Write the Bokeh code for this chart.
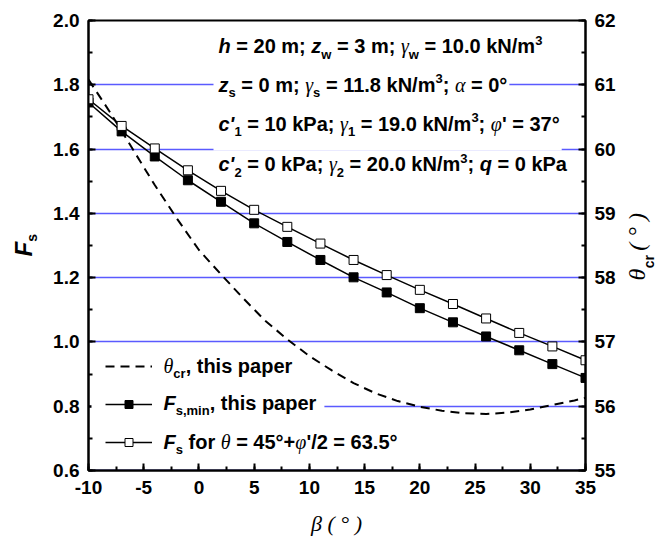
import glob
import os
import math

from bokeh.plotting import figure
from bokeh.models import (Range1d, LinearAxis, SingleIntervalTicker, NumeralTickFormatter,
                          Label, BoxAnnotation, Legend, LegendItem)
from bokeh.core.properties import value
from bokeh.embed import file_html
from bokeh.resources import INLINE

# ---------------- data ----------------
beta = [-10, -7, -4, -1, 2, 5, 8, 11, 14, 17, 20, 23, 26, 29, 32, 35]
fs_min = [1.745, 1.655, 1.577, 1.503, 1.436, 1.369, 1.311, 1.255,
          1.201, 1.154, 1.105, 1.061, 1.017, 0.974, 0.931, 0.888]
fs_fixed = [1.755, 1.672, 1.602, 1.534, 1.470, 1.411, 1.358, 1.306,
            1.255, 1.208, 1.162, 1.118, 1.073, 1.028, 0.986, 0.943]

beta_theta = [-10, -8, -6, -4, -2, 0, 2, 4, 6, 8, 10, 12, 14, 16, 18, 20,
              22, 24, 26, 28, 30, 32, 34, 35]
theta_cr = [61.08, 60.56, 60.00, 59.44, 58.92, 58.43, 58.05, 57.68, 57.33,
            57.04, 56.78, 56.56, 56.36, 56.20, 56.08, 55.99, 55.93, 55.89,
            55.88, 55.90, 55.95, 56.02, 56.09, 56.13]

X_RANGE = (-10, 35)
Y_RANGE = (0.6, 2.0)
THETA_RANGE = (55, 62)

NB = "\u00a0"  # non-breaking space (kept by SVG text)

# ---------------- layout ----------------
W, H = 656, 549
FL, FR, FT, FB = 88, 71, 20, 79
FW = W - FL - FR
FH = H - FT - FB
BASE_FIX = 0.38   # Bokeh draws "alphabetic" text a little low: lift by this * font size


def px2x(px):
    return X_RANGE[0] + (px - FL) / FW * (X_RANGE[1] - X_RANGE[0])


def py2y(py):
    return Y_RANGE[1] - (py - FT) / FH * (Y_RANGE[1] - Y_RANGE[0])


# ---------------- text measuring ----------------
try:
    from PIL import ImageFont
except Exception:
    ImageFont = None

FONT_FILES = {
    "b": "LiberationSans-Bold.ttf",
    "bi": "LiberationSans-BoldItalic.ttf",
    "g": "LiberationSerif-Italic.ttf",
    "r": "LiberationSerif-Regular.ttf",
}
FONT_SPEC = {
    "b": ("Liberation Sans", "bold"),
    "bi": ("Liberation Sans", "bold italic"),
    "g": ("Liberation Serif", "italic"),
    "r": ("Liberation Serif", "normal"),
}
_path_cache = {}
_font_cache = {}


def find_font(name):
    if name in _path_cache:
        return _path_cache[name]
    found = None
    for root in ["/usr/share/fonts", "/usr/local/share/fonts",
                 os.path.expanduser("~/.fonts"), os.path.expanduser("~/.local/share/fonts")]:
        hits = glob.glob(os.path.join(root, "**", name), recursive=True)
        if hits:
            found = hits[0]
            break
    _path_cache[name] = found
    return found


def text_width(text, style, size):
    key = (style, size)
    if key not in _font_cache:
        f = None
        path = find_font(FONT_FILES[style])
        if ImageFont is not None and path:
            try:
                f = ImageFont.truetype(path, size)
            except Exception:
                f = None
        _font_cache[key] = f
    f = _font_cache[key]
    if f is not None:
        return f.getlength(text)
    return 0.56 * size * len(text)


def make_label(x0, y0, xo, yo, text, angle, style, size, canvas):
    fam, fst = FONT_SPEC[style]
    if angle == 0:
        yo = yo + BASE_FIX * size
    else:
        xo = xo - BASE_FIX * size
    kw = dict(x_offset=xo, y_offset=yo, text=text, angle=angle, text_font=fam,
              text_font_style=fst, text_font_size=f"{size}px", text_color="black",
              text_align="left", text_baseline="alphabetic")
    if canvas:
        # canvas units: origin at the top-left of the canvas, y downwards
        return Label(x=x0, y=y0, x_units="canvas", y_units="canvas", **kw)
    return Label(x=px2x(x0), y=py2y(y0), **kw)


def rich(segments, x0, y0, angle=0.0, canvas=False):
    """segments: (text, style, size_px, dy_px). x0, y0: start of baseline in canvas px."""
    labels = []
    cum = 0.0
    for text, style, size, dy in segments:
        stripped = text.strip()
        lead = len(text) - len(text.lstrip())
        off = cum + (text_width(" " * lead, style, size) if lead else 0.0)
        if angle == 0:
            xo, yo = off, dy
        else:
            xo, yo = -dy, off
        if stripped:
            labels.append(make_label(x0, y0, xo, yo, stripped, angle, style, size, canvas))
        cum += text_width(text, style, size)
    return labels, cum


# ---------------- figure ----------------
p = figure(width=W, height=H, x_range=Range1d(*X_RANGE), y_range=Range1d(*Y_RANGE),
           output_backend="svg", toolbar_location=None,
           min_border_left=FL, min_border_right=FR, min_border_top=FT, min_border_bottom=FB)
p.extra_y_ranges = {"theta": Range1d(*THETA_RANGE)}
p.background_fill_color = "white"
p.border_fill_color = "white"
p.outline_line_color = "black"
p.outline_line_width = 2
p.outline_line_alpha = 1.0


def style_axis(ax, ticker, fmt, standoff):
    ax.ticker = ticker
    ax.formatter = fmt
    ax.axis_line_width = 2
    ax.axis_line_color = "black"
    ax.major_tick_in = 7
    ax.major_tick_out = 0
    ax.minor_tick_in = 4
    ax.minor_tick_out = 0
    ax.major_tick_line_width = 2
    ax.minor_tick_line_width = 2
    ax.major_label_text_font = "Liberation Sans"
    ax.major_label_text_font_style = "bold"
    ax.major_label_text_font_size = "19px"
    ax.major_label_text_color = "black"
    ax.major_label_standoff = standoff


style_axis(p.xaxis[0], SingleIntervalTicker(interval=5, num_minor_ticks=2),
           NumeralTickFormatter(format="0"), 10)
style_axis(p.yaxis[0], SingleIntervalTicker(interval=0.2, num_minor_ticks=2),
           NumeralTickFormatter(format="0.0"), 9)
right_axis = LinearAxis(y_range_name="theta")
style_axis(right_axis, SingleIntervalTicker(interval=1, num_minor_ticks=2),
           NumeralTickFormatter(format="0"), 9)
p.add_layout(right_axis, "right")

p.xgrid.visible = False
p.ygrid.grid_line_color = "#5a5aff"
p.ygrid.grid_line_width = 1.3

# ---------------- data renderers ----------------
r_theta = p.line(beta_theta, theta_cr, y_range_name="theta", line_color="black",
                 line_width=2, line_dash="9 6")
r_min_l = p.line(beta, fs_min, line_color="black", line_width=1.5)
r_min_m = p.scatter(beta, fs_min, marker="square", size=9, fill_color="black",
                    line_color="black", line_width=1)
r_fix_l = p.line(beta, fs_fixed, line_color="black", line_width=1.5)
r_fix_m = p.scatter(beta, fs_fixed, marker="square", size=9, fill_color="white",
                    line_color="black", line_width=1)

# ---------------- annotation text block ----------------
SUB = -5
SUP = 9
M, S = 20, 13
ann_lines = [
    [("h", "bi", M, 0), (" = 20 m; ", "b", M, 0), ("z", "bi", M, 0), ("w", "b", S, SUB),
     (" = 3 m; ", "b", M, 0), ("γ", "g", M, 0), ("w", "b", S, SUB),
     (" = 10.0 kN/m", "b", M, 0), ("3", "b", S, SUP)],
    [("z", "bi", M, 0), ("s", "b", S, SUB), (" = 0 m; ", "b", M, 0), ("γ", "g", M, 0),
     ("s", "b", S, SUB), (" = 11.8 kN/m", "b", M, 0), ("3", "b", S, SUP),
     ("; ", "b", M, 0), ("α", "g", M, 0), (" = 0°", "b", M, 0)],
    [("c'", "bi", M, 0), ("1", "b", S, SUB), (" = 10 kPa; ", "b", M, 0), ("γ", "g", M, 0),
     ("1", "b", S, SUB), (" = 19.0 kN/m", "b", M, 0), ("3", "b", S, SUP),
     ("; ", "b", M, 0), ("φ", "g", M, 0), ("' = 37°", "b", M, 0)],
    [("c'", "bi", M, 0), ("2", "b", S, SUB), (" = 0 kPa; ", "b", M, 0), ("γ", "g", M, 0),
     ("2", "b", S, SUB), (" = 20.0 kN/m", "b", M, 0), ("3", "b", S, SUP),
     ("; ", "b", M, 0), ("q", "bi", M, 0), (" = 0 kPa", "b", M, 0)],
]
ann_x0 = 218
ann_base = [53.5, 92, 131, 171.5]
# white boxes behind lines (top pad, bottom pad) in px
ann_box = [None, (17, 7), (18, 19), (18, 7)]

center_labels = []
side_labels = []
boxes = []
for segs, base, bx in zip(ann_lines, ann_base, ann_box):
    labs, wid = rich(segs, ann_x0, base)
    center_labels += labs
    if bx is not None:
        boxes.append(BoxAnnotation(left=px2x(ann_x0 - 5), right=px2x(ann_x0 + wid + 2),
                                   top=py2y(base - bx[0]), bottom=py2y(base + bx[1]),
                                   fill_color="white", fill_alpha=1.0, line_color=None))

# ---------------- legend ----------------
leg_x0 = 163
leg_texts = [
    [("θ", "g", M, 0), ("cr", "b", S, SUB), (", this paper", "b", M, 0)],
    [("F", "bi", M, 0), ("s,min", "b", S, SUB), (", this paper", "b", M, 0)],
    [("F", "bi", M, 0), ("s", "b", S, SUB), (" for ", "b", M, 0), ("θ", "g", M, 0),
     (" = 45°+", "b", M, 0), ("φ", "g", M, 0), ("'/2 = 63.5°", "b", M, 0)],
]
leg_base = [373, 410, 449]
for i, (segs, base) in enumerate(zip(leg_texts, leg_base)):
    labs, wid = rich(segs, leg_x0, base)
    center_labels += labs
    if i == 1:
        boxes.append(BoxAnnotation(left=px2x(91), right=px2x(leg_x0 + wid + 8),
                                   top=py2y(base - 19), bottom=py2y(base + 7),
                                   fill_color="white", fill_alpha=1.0, line_color=None))

# ---------------- axis titles (outside the frame: side panels, canvas units) ----------------
# x title: one label in the bottom panel
xt_text = "β" + NB + "(" + NB + "°" + NB + ")"
xt_w = text_width(xt_text, "g", 22)
side_labels.append((make_label(336 - xt_w / 2, 531, 0, 0, xt_text, 0.0, "g", 22, True), "below"))

# left title F_s: two labels in the left panel
labs, _ = rich([("F", "bi", 24, 0), ("s", "b", 14, -5)], 32, 256, angle=math.pi / 2,
               canvas=True)
side_labels += [(lab, "left") for lab in labs]

# right title theta_cr ( ° ): main text in right panel, subscript in top panel
rt_x0, rt_y0 = 646, 280
theta_w = text_width("θ", "g", 24)
cr_w = text_width("cr", "b", 14)
gap_n = max(1, int(round((cr_w + text_width(" ", "g", 24)) / text_width(NB, "g", 24))))
rt_text = "θ" + NB * gap_n + "(" + NB + "°" + NB + ")"
side_labels.append((make_label(rt_x0, rt_y0, 0, 0, rt_text, math.pi / 2, "g", 24, True), "right"))
side_labels.append((make_label(rt_x0 + BASE_FIX * 24 - BASE_FIX * 14, rt_y0, 4, theta_w + 0.5,
                               "cr", math.pi / 2, "b", 14, True), "above"))

for b in boxes:
    p.add_layout(b)

legend = Legend(items=[LegendItem(label=value(" "), renderers=[r_theta]),
                       LegendItem(label=value(" "), renderers=[r_min_l, r_min_m]),
                       LegendItem(label=value(" "), renderers=[r_fix_l, r_fix_m])],
                location=(17, 18), orientation="vertical", glyph_width=47, glyph_height=20,
                label_height=20, label_width=1, label_standoff=0, spacing=18, padding=0,
                margin=0, border_line_color=None, background_fill_alpha=0,
                label_text_font_size="8px")
p.add_layout(legend, "center")

for lab in center_labels:
    p.add_layout(lab)
for lab, side in side_labels:
    p.add_layout(lab, side)

open("out.html", "w").write(file_html(p, INLINE))
